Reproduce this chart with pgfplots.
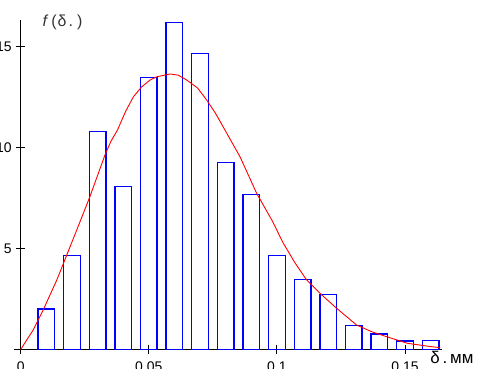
\documentclass[border=0pt]{standalone}
\usepackage{fontspec}
\setmainfont{Liberation Sans}
\usepackage{pgfplots}
\pgfplotsset{compat=1.18}
\definecolor{barblue}{RGB}{0,0,255}
\begin{document}
\begin{tikzpicture}
\begin{axis}[
  scale only axis, width=427.7bp, height=329.26bp,
  xmin=-0.0026, xmax=0.1643, ymin=0, ymax=16.3,
  axis x line=middle, axis y line=middle,
  axis line style={-, black, line width=0.9bp},
  xtick={0,0.05,0.1,0.15}, xticklabels={0,0.05,0.1,0.15},
  ytick={5,10,15}, yticklabels={5,10,15},
  hide obscured x ticks=false, hide obscured y ticks=false,
  tick align=center, major tick length=9bp,
  tick style={black, line width=0.9bp},
  x tick label style={font=\fontsize{14}{16}\selectfont, anchor=north, yshift=-3.8bp},
  y tick label style={font=\fontsize{14}{16}\selectfont, anchor=east, xshift=-1bp},
  every axis x label/.style={at={(axis description cs:0.973,0)}, anchor=north west, inner sep=0pt, yshift=-2bp, font=\fontsize{17}{19}\selectfont},
  xlabel={δ\,.\,мм},
  clip=false,
]
\addplot[ybar, bar width=0.0065, draw=barblue, fill=none, line width=1.4bp] coordinates {
  (0.01,2.00) (0.02,4.64) (0.03,10.78) (0.04,8.06) (0.05,13.47) (0.06,16.18)
  (0.07,14.66) (0.08,9.27) (0.09,7.66) (0.10,4.64) (0.11,3.46) (0.12,2.71)
  (0.13,1.18) (0.14,0.77) (0.15,0.42) (0.16,0.44)
};
\addplot[red, line width=0.9bp] coordinates {
  (0,0) (0.0049,0.97) (0.0088,1.96) (0.0141,3.44) (0.0219,5.92) (0.0270,7.56)
  (0.0329,9.63) (0.0352,10.30) (0.0378,10.87) (0.0410,11.80) (0.0440,12.51) (0.0472,13.00) (0.0505,13.34)
  (0.0531,13.50) (0.0583,13.64) (0.0615,13.58) (0.0648,13.34) (0.0690,12.95) (0.0726,12.35) (0.0760,11.70) (0.0797,10.87)
  (0.0856,9.54) (0.0921,7.73) (0.0980,6.41) (0.1025,5.26) (0.1070,4.30) (0.1116,3.44)
  (0.1175,2.70) (0.1233,2.04) (0.1311,1.21) (0.1370,0.88) (0.1429,0.63) (0.1508,0.31) (0.1585,0.17) (0.1637,0.09)
};
\node[anchor=west, inner sep=0pt, font=\fontsize{16}{18}\selectfont, text=black!80] at (axis cs:0.0085,16.2) {\textit{f}\hspace{3bp}(\hspace{1bp}δ\hspace{2bp}.\hspace{4bp})};
\end{axis}
\pgfresetboundingbox
\path[use as bounding box] (-14bp,-19.5bp) rectangle (466bp,349.5bp);
\end{tikzpicture}
\end{document}
